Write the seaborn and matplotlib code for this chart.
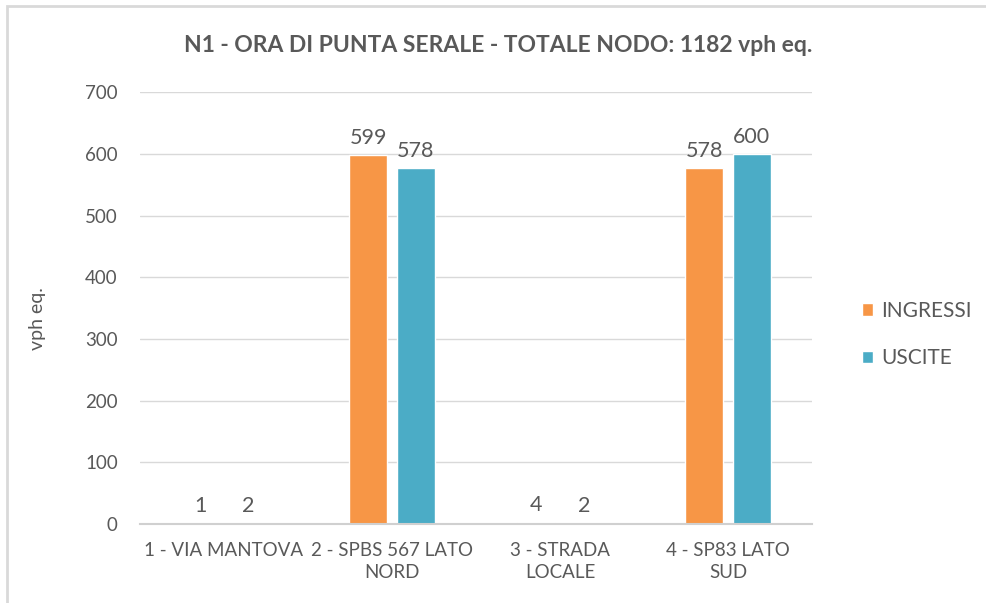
import numpy as np
import pandas as pd
import matplotlib
matplotlib.use("Agg")
import matplotlib.pyplot as plt
import seaborn as sns
from matplotlib.patches import Rectangle

# data
categories = ["1 - VIA MANTOVA", "2 - SPBS 567 LATO\nNORD", "3 - STRADA\nLOCALE", "4 - SP83 LATO\nSUD"]
ingressi = [1, 599, 4, 578]
uscite = [2, 578, 2, 600]
series = ["INGRESSI", "USCITE"]
title = "N1 - ORA DI PUNTA SERALE - TOTALE NODO: 1182 vph eq."

df = pd.DataFrame({
    "nodo": categories * 2,
    "serie": [series[0]] * len(categories) + [series[1]] * len(categories),
    "valore": ingressi + uscite,
})

sns.set_style("white")
plt.rcParams["font.family"] = ["Lato", "DejaVu Sans"]
txt = "#595959"

fig = plt.figure(figsize=(9.86, 6.03), dpi=100)
ax = fig.add_axes([0.142, 0.131, 0.6815, 0.716])

# outer chart border
fig.patches.append(Rectangle((0.007, -0.01), 1.0, 1.0, transform=fig.transFigure,
                             fill=False, edgecolor="#D9D9D9", linewidth=2))

sns.barplot(data=df, x="nodo", y="valore", hue="serie", order=categories,
            palette=["#F79646", "#4BACC6"], saturation=1, width=0.57, gap=0.2,
            ax=ax, legend=True)

for cont in ax.containers:
    ax.bar_label(cont, padding=5, fontsize=15.5, color=txt)

ax.set_ylim(0, 700)
ax.set_yticks(range(0, 701, 100))
ax.set_xlim(-0.5, 3.5)
ax.yaxis.grid(True, color="#D9D9D9", linewidth=1)
ax.set_axisbelow(True)
for s in ["top", "right", "left"]:
    ax.spines[s].set_visible(False)
ax.spines["bottom"].set_color("#D0D0D0")
ax.spines["bottom"].set_linewidth(1.5)
ax.tick_params(axis="both", length=0, colors=txt, labelsize=13.5)
ax.tick_params(axis="y", pad=16)
ax.tick_params(axis="x", pad=13)
for lab in ax.get_xticklabels():
    lab.set_linespacing(1.35)
ax.set_xlabel("")
ax.set_ylabel("vph eq.", fontsize=14, color=txt)
ax.yaxis.set_label_coords(-0.14, 0.475)

fig.text(0.505, 0.925, title, ha="center", va="center", fontsize=16.5,
         fontweight="bold", color=txt)

h, l = ax.get_legend_handles_labels()
ax.legend(h, l, loc="center left", bbox_to_anchor=(0.855, 0.445),
          bbox_transform=fig.transFigure, frameon=False, fontsize=15,
          labelcolor=txt, handlelength=0.55, handleheight=0.55,
          handletextpad=0.4, labelspacing=1.3)

fig.savefig("out.png", dpi=100)
